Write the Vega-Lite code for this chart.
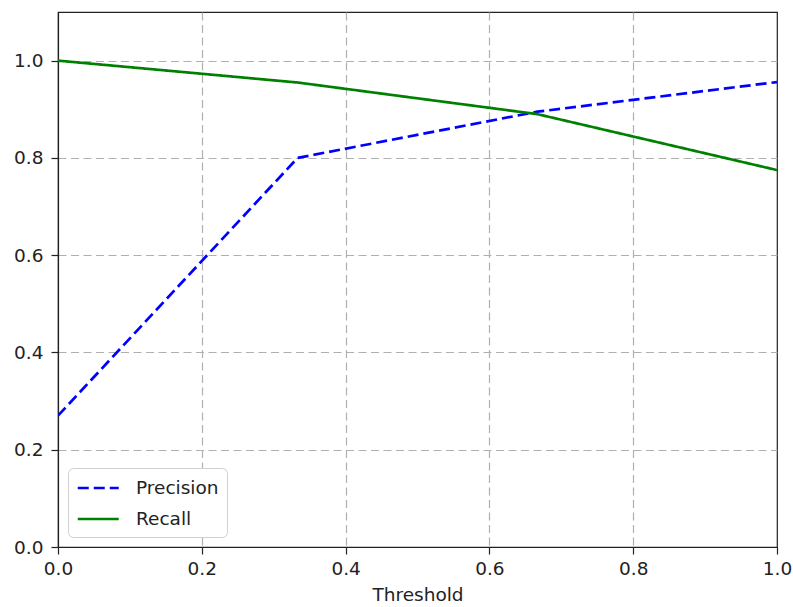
{
  "$schema": "https://vega.github.io/schema/vega-lite/v6.json",
  "autosize": {"type": "none"},
  "padding": {"left": 58, "top": 12, "right": 16, "bottom": 60},
  "width": 719,
  "height": 535,
  "background": "white",
  "config": {
    "view": {"stroke": "#222222", "strokeWidth": 1.2},
    "font": "DejaVu Sans",
    "axis": {
      "domainColor": "#222222",
      "domainWidth": 1.2,
      "tickColor": "#222222",
      "tickSize": 7,
      "tickWidth": 1.2,
      "labelFont": "DejaVu Sans",
      "labelFontSize": 18.5,
      "labelColor": "#222222",
      "labelPadding": 5,
      "labelFlush": false,
      "gridColor": "#b0b0b0",
      "gridDash": [8, 4.5],
      "gridWidth": 1.2,
      "titleFont": "DejaVu Sans",
      "titleFontSize": 18.5,
      "titleFontWeight": "normal",
      "titleColor": "#222222"
    }
  },
  "data": {
    "values": [
      {"t": 0.0, "v": 0.27, "s": "Precision"},
      {"t": 0.3333, "v": 0.80, "s": "Precision"},
      {"t": 0.6667, "v": 0.895, "s": "Precision"},
      {"t": 1.0, "v": 0.956, "s": "Precision"},
      {"t": 0.0, "v": 1.0, "s": "Recall"},
      {"t": 0.3333, "v": 0.955, "s": "Recall"},
      {"t": 0.6667, "v": 0.89, "s": "Recall"},
      {"t": 1.0, "v": 0.775, "s": "Recall"}
    ]
  },
  "mark": {"type": "line", "strokeWidth": 2.7, "clip": true},
  "encoding": {
    "x": {
      "field": "t", "type": "quantitative",
      "scale": {"domain": [0, 1], "nice": false, "zero": false},
      "axis": {
        "values": [0, 0.2, 0.4, 0.6, 0.8, 1.0], "format": ".1f", "title": "Threshold", "titlePadding": 8,
        "gridOpacity": {"condition": {"test": "datum.value >= 0.99 || datum.value <= 0.01", "value": 0}, "value": 1}
      }
    },
    "y": {
      "field": "v", "type": "quantitative",
      "scale": {"domain": [0, 1.1], "nice": false, "zero": false},
      "axis": {
        "values": [0, 0.2, 0.4, 0.6, 0.8, 1.0], "format": ".1f", "title": null, "labelPadding": 8,
        "gridOpacity": {"condition": {"test": "datum.value <= 0.01", "value": 0}, "value": 1}
      }
    },
    "color": {
      "field": "s", "type": "nominal",
      "scale": {"domain": ["Precision", "Recall"], "range": ["#0000ff", "#008000"]},
      "legend": {
        "title": null,
        "orient": "bottom-left",
        "offset": 10,
        "fillColor": "white",
        "strokeColor": "#d0d0d0",
        "cornerRadius": 5,
        "padding": 8,
        "symbolType": "M-1,0H3",
        "symbolSize": 420,
        "symbolStrokeWidth": 2.7,
        "labelFont": "DejaVu Sans",
        "labelFontSize": 18.5,
        "labelColor": "#222222",
        "rowPadding": 9,
        "labelOffset": 36
      }
    },
    "strokeDash": {
      "field": "s", "type": "nominal",
      "scale": {"domain": ["Precision", "Recall"], "range": [[11, 5], [1, 0]]},
      "legend": null
    }
  }
}
